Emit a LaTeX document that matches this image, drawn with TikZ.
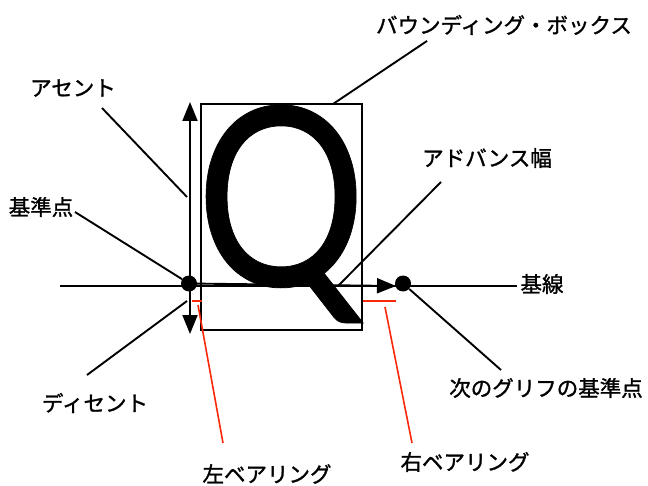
\documentclass[tikz,border=0pt]{standalone}
\usepackage{fontspec}
\usepackage{graphicx}
\newfontfamily\jpfont[FakeBold=1.3]{Noto Sans CJK JP}
\newfontfamily\qfont[FakeBold=0.3]{Lato}
\usetikzlibrary{arrows.meta}
\definecolor{bearred}{RGB}{250,40,10}
\begin{document}
\begin{tikzpicture}[x=1bp,y=-1bp,
  lbl/.style={font=\jpfont\fontsize{21.5bp}{26bp}\selectfont, inner sep=0pt, anchor=center},
  lead/.style={line width=1.9bp, black},
  redlead/.style={line width=1.6bp, bearred},
  dotmark/.style={circle, fill=black, inner sep=0pt, minimum size=16bp},
  bigarrow/.style={line width=1.9bp, -{Triangle[length=19bp,width=15bp]}}]
\useasboundingbox (0,0) rectangle (648,486);
% glyph and bounding box
\node[inner sep=0pt, anchor=base, font=\qfont\fontsize{250bp}{250bp}\selectfont] (q) at (281,286) {\scalebox{0.85}[1]{Q}};
\draw[line width=1.5bp] (201,104) rectangle (362,330);
\coordinate (bbtop) at (333,104);
% baseline
\coordinate (bl0) at (60,286);
\coordinate (bl1) at (517,286);
\draw[lead] (bl0) -- (bl1);
% ascent/descent arrow
\coordinate (asc) at (190,102);
\coordinate (desc) at (190,334);
\coordinate (mid) at (190,286);
\draw[bigarrow] (mid) -- (asc);
\draw[bigarrow] (mid) -- (desc);
% origin points
\node[dotmark] (o1) at (189,283.5) {};
\node[dotmark] (o2) at (403,283.5) {};
\coordinate (advtip) at (396,286);
\draw[bigarrow] (o1) -- (advtip);
% bearings
\draw[redlead] (192,301) -- (202,301);
\draw[redlead] (363,301) -- (396,301);
% labels
\node[lbl] (tAsc) at (73,88) {アセント};
\node[lbl] (tOrg) at (41,207) {基準点};
\node[lbl] (tBB) at (504,25) {バウンディング・ボックス};
\node[lbl] (tAdv) at (487,158) {アドバンス幅};
\node[lbl] (tBase) at (542,284) {基線};
\node[lbl] (tDesc) at (95,403) {ディセント};
\node[lbl] (tNext) at (546,388) {次のグリフの基準点};
\node[lbl] (tLB) at (267,474) {左ベアリング};
\node[lbl] (tRB) at (465,462) {右ベアリング};
% leaders
\coordinate (aS) at (102,108); \coordinate (aE) at (187,197);
\draw[lead] (aS) -- (aE);
\coordinate (oS) at (75,212);
\draw[lead] (oS) -- (o1);
\coordinate (dS) at (187,301); \coordinate (dE) at (87,375);
\draw[lead] (dS) -- (dE);
\coordinate (bS) at (427,41);
\draw[lead] (bS) -- (bbtop);
\coordinate (vS) at (441,182); \coordinate (vE) at (338,286);
\draw[lead] (vS) -- (vE);
\coordinate (nE) at (501,370);
\draw[lead] (o2) -- (nE);
\coordinate (lS) at (198,305); \coordinate (lE) at (223,443);
\draw[redlead] (lS) -- (lE);
\coordinate (rS) at (385,307); \coordinate (rE) at (412,443);
\draw[redlead] (rS) -- (rE);
\end{tikzpicture}
\end{document}
